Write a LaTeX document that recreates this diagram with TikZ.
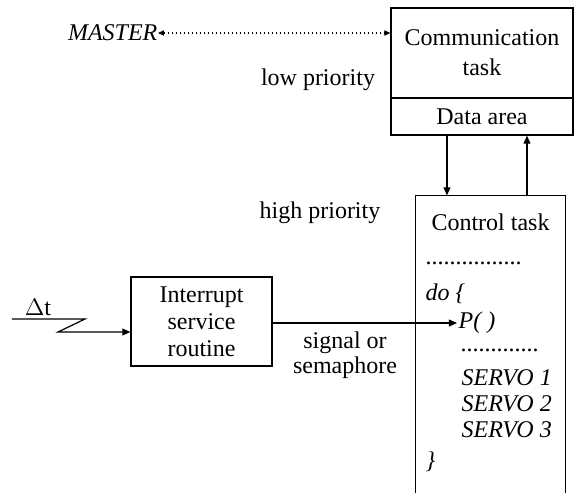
\documentclass[tikz,border=0pt]{standalone}
\usepackage{fontspec}
\setmainfont{Liberation Serif}
\usetikzlibrary{arrows.meta}
\begin{document}
\begin{tikzpicture}[x=0.5pt,y=-0.5pt,line width=0.6pt,
  txt/.style={inner sep=0pt,font=\fontsize{12}{15}\selectfont},
  itxt/.style={txt,font=\fontsize{12}{15}\selectfont\itshape},
  box/.style={draw,inner sep=0pt,align=center,font=\fontsize{12}{15}\selectfont},
  tip/.style={-{Triangle[length=4pt,width=3.4pt]}},
  dtip/.style={{Triangle[length=3pt,width=2.6pt]}-{Triangle[length=3pt,width=2.6pt]},
    dash pattern=on 0.6pt off 1.4pt}]
\fill[white] (0,0) rectangle (575,493);
\useasboundingbox (0,0) rectangle (575,493);

% communication task and its data area
\node[box,minimum width=91pt,minimum height=45pt] (comm) at (482,53)
  {Communication\\task};
\node[box,minimum width=91pt,minimum height=18.5pt] (data) at (482,116.5)
  {Data area};

% master link
\node[itxt,anchor=east] (master) at (158,33) {MASTER};
\draw[dtip] (master.east) -- (comm.west |- master.east);

\node[txt] (low) at (318,80) {low priority};
\node[txt] (high) at (320,213) {high priority};

% control task: box open at the bottom
\node[inner sep=0pt,minimum width=74.5pt,minimum height=148.5pt] (ctl) at (490.5,344.5) {};
\draw (ctl.south west) -- (ctl.north west) -- (ctl.north east) -- (ctl.south east);
\node[txt] (ctitle) at (490.5,222) {Control task};
\node[txt,anchor=west] (dots1) at (425,263) {................};
\node[itxt,anchor=west] (doline) at (425,294) {do \{};
\node[itxt,anchor=west] (pcall) at (458,323) {P( )};
\node[txt,anchor=west] (dots2) at (460,350) {.............};
\node[itxt,anchor=west] (s1) at (461,378) {SERVO 1};
\node[itxt,anchor=west] (s2) at (461,404) {SERVO 2};
\node[itxt,anchor=west] (s3) at (461,430) {SERVO 3};
\node[itxt,anchor=west] (close) at (425,462) {\}};

% data exchange between the tasks
\coordinate (dnx) at (447,0);
\coordinate (upx) at (527,0);
\draw[tip] (data.south -| dnx) -- (ctl.north -| dnx);
\draw[tip] (ctl.north -| upx) -- (data.south -| upx);

% interrupt service routine
\node[box,minimum width=70.5pt,minimum height=44.5pt,font=\fontsize{12}{13.5}\selectfont]
  (isr) at (201.5,321.5) {Interrupt\\service\\routine};
\node[txt] (dt) at (38,307) {$\Delta$t};
\coordinate (in0) at (12,319);
\coordinate (z1) at (85,319);
\coordinate (z2) at (58,332);
\draw[tip] (in0) -- (z1) -- (z2) -- (isr.west |- z2);

% signal to the control task
\coordinate (sig) at (272,323);
\draw[tip] (isr.east |- sig) -- ([xshift=-0.5pt]pcall.west);
\node[txt,align=center,font=\fontsize{12}{12.5}\selectfont] (siglbl) at (345,355)
  {signal or\\semaphore};
\end{tikzpicture}
\end{document}
